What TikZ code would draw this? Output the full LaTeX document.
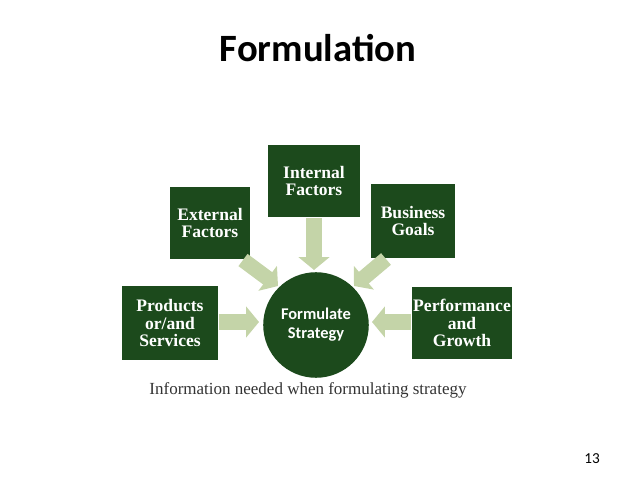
\documentclass[tikz,border=0pt]{standalone}
\usepackage{fontspec}
\setmainfont{Liberation Serif}
\newfontfamily\carlito{Carlito}
\usetikzlibrary{arrows.meta,positioning}
\definecolor{darkleaf}{HTML}{1C4A1C}
\definecolor{paleleaf}{HTML}{C4D4A8}

\begin{document}
\begin{tikzpicture}[
	x=0.03cm,y=-0.03cm,
	factor/.style={fill=darkleaf,text=white,font=\bfseries\fontsize{15}{15}\selectfont,align=center,inner sep=0pt},
	feed/.style={paleleaf,line width=13pt,-{Triangle[width=26pt,length=11pt]}}
	]
	% Frame
	\useasboundingbox (0,0) rectangle (638,479);
	\node[font=\carlito\bfseries\fontsize{33}{36}\selectfont] (title) at (318,48) {Formulation};
	
	% Factors
	\node[factor,minimum width=93*0.85pt,minimum height=72*0.85pt] (internal) at (314,181) {Internal\\Factors};
	\node[factor,minimum width=81*0.85pt,minimum height=72*0.85pt] (external) at (210,223) {External\\Factors};
	\node[factor,minimum width=85*0.85pt,minimum height=74*0.85pt] (business) at (413,221) {Business\\Goals};
	\node[factor,minimum width=96*0.85pt,minimum height=74*0.85pt] (products) at (170,323) {Products\\or/and\\Services};
	\node[factor,minimum width=101*0.85pt,minimum height=73*0.85pt] (performance) at (462,323) {Performance\\and\\Growth};
	
	% Centre
	\node[circle,fill=darkleaf,text=white,minimum size=106*0.85pt,align=center,
		font=\carlito\bfseries\fontsize{14}{16}\selectfont] (strategy) at (316,325) {Formulate\\Strategy};
	
	% Arrows
	\coordinate (a1) at (314,218);
	\coordinate (a2) at (243,260);
	\coordinate (a3) at (386,259);
	\coordinate (a4) at (219,322);
	\coordinate (a5) at (411,322);
	\draw[feed] (a1) -- (314,270);
	\draw[feed] (a2) -- (278,286);
	\draw[feed] (a3) -- (354,286);
	\draw[feed] (a4) -- (259,322);
	\draw[feed] (a5) -- (372,322);
	
	% Caption
	\node[font=\fontsize{14.5}{16}\selectfont,text=black!80] (caption) at (308,390) {Information needed when formulating strategy};
	\node[font=\carlito\fontsize{13}{14}\selectfont] (page) at (592,459) {13};
\end{tikzpicture}
\end{document}
